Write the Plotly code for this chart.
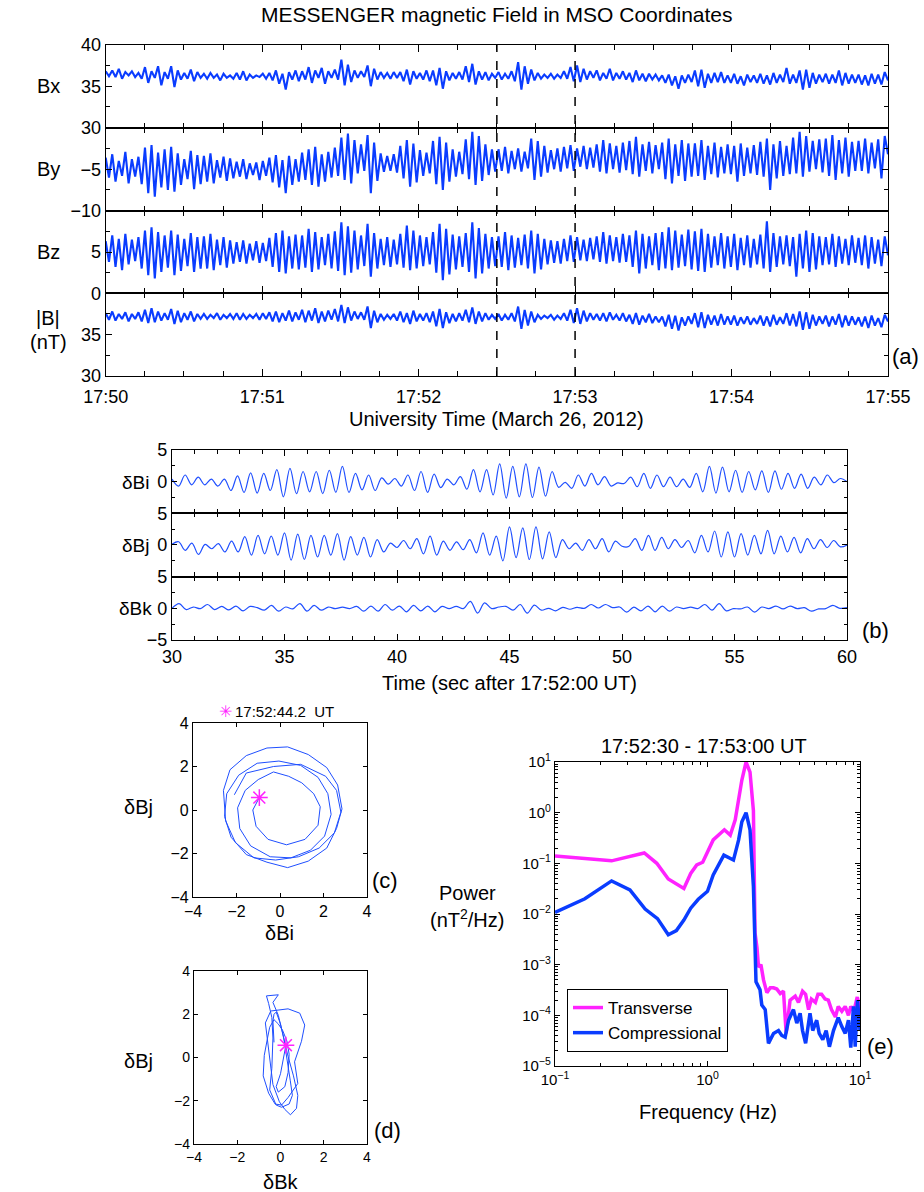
import numpy as np
import plotly.graph_objects as go

W, H = 924, 1192
FONT = 'Liberation Sans, Arial, Helvetica, sans-serif'


def X(px):
    return px / W


def Y(py):
    return 1 - py / H


# ---------------- DATA ----------------
# Panel (a): seconds after 17:50:00, tick labels
a_tick_seconds = [0, 60, 120, 180, 240, 300]
a_tick_labels = ['17:50', '17:51', '17:52', '17:53', '17:54', '17:55']
event_seconds = [150, 180]  # 17:52:30 and 17:53:00

bx = [36.8, 36.2, 36.9, 36.1, 37.1, 35.9, 36.7, 36.3, 36.8, 36.1,
      36.6, 35.9, 37.3, 35.4, 36.8, 36.0, 37.4, 35.1, 36.7, 35.9,
      37.4, 34.9, 36.9, 35.8, 36.6, 35.9, 37.0, 35.6, 36.7, 36.0,
      36.5, 35.9, 36.6, 36.0, 36.4, 35.7, 36.5, 36.0, 36.3, 35.9,
      36.6, 35.8, 36.8, 35.7, 36.4, 36.0, 36.3, 36.1, 36.5, 35.9,
      36.6, 35.7, 36.9, 35.3, 36.5, 34.6, 36.7, 35.8, 36.9, 35.6,
      36.8, 35.8, 37.3, 35.4, 36.9, 36.0, 37.2, 35.3, 36.8, 36.0,
      37.0, 35.8, 38.2, 35.1, 37.6, 35.5, 36.9, 36.0, 36.8, 36.1,
      37.5, 35.0, 37.1, 35.8, 36.7, 36.0, 36.6, 35.9, 36.7, 36.0,
      36.7, 35.6, 37.0, 35.2, 36.8, 35.9, 36.6, 35.8, 36.9, 35.6,
      36.9, 35.1, 37.2, 34.7, 36.8, 35.7, 36.6, 35.9, 36.7, 35.8,
      37.4, 35.5, 37.7, 35.2, 36.8, 35.8, 36.7, 35.7, 36.5, 36.0,
      36.7, 35.8, 36.5, 35.9, 36.8, 35.6, 37.9, 34.6, 37.4, 35.3,
      37.0, 35.7, 36.6, 35.9, 36.4, 36.0, 36.5, 35.9, 36.4, 36.0,
      36.8, 35.9, 37.3, 35.6, 37.5, 35.5, 37.1, 35.8, 36.8, 36.0,
      36.9, 35.7, 36.6, 35.9, 37.1, 35.7, 36.6, 35.9, 36.8, 35.8,
      36.6, 35.5, 36.9, 35.7, 36.5, 35.6, 36.5, 35.8, 36.4, 35.7,
      36.3, 35.4, 36.4, 35.1, 36.2, 34.7, 36.3, 35.4, 36.4, 35.5,
      36.9, 35.0, 37.0, 34.8, 36.5, 35.4, 36.6, 35.5, 36.7, 35.4,
      36.3, 35.4, 36.5, 35.3, 36.2, 35.1, 36.4, 35.5, 36.3, 35.4,
      36.5, 35.3, 36.3, 35.2, 36.6, 35.4, 36.4, 35.5, 37.2, 35.3,
      36.4, 35.4, 36.9, 34.6, 37.0, 34.8, 36.6, 35.3, 36.4, 35.5,
      36.5, 35.3, 36.4, 35.4, 36.9, 35.1, 36.6, 35.3, 36.4, 35.4,
      36.4, 35.2, 36.3, 35.1, 36.5, 35.3, 36.4, 35.2, 36.7, 35.7]

by = [-3.6, -6.0, -3.2, -6.5, -4.0, -5.8, -2.9, -6.7, -3.8, -5.9,
      -3.5, -6.8, -2.4, -7.9, -2.1, -8.3, -3.0, -7.2, -2.6, -7.5,
      -2.3, -7.7, -3.1, -6.9, -3.8, -6.2, -2.8, -7.4, -3.3, -6.8,
      -3.4, -6.5, -3.1, -6.7, -3.9, -6.0, -3.5, -6.4, -3.7, -6.1,
      -4.1, -5.9, -3.8, -6.2, -4.3, -5.7, -4.2, -6.3, -4.0, -5.8,
      -3.6, -6.6, -3.3, -7.2, -3.9, -7.9, -3.4, -6.9, -3.8, -6.5,
      -3.0, -6.3, -2.6, -6.9, -2.3, -7.1, -3.2, -6.5, -2.9, -6.0,
      -2.4, -5.8, -1.2, -6.3, -0.7, -6.7, -1.5, -5.5, -2.0, -5.2,
      -0.9, -7.9, -1.8, -6.4, -3.1, -5.3, -3.4, -5.2, -3.2, -5.4,
      -2.2, -6.1, -1.5, -7.1, -1.9, -6.6, -2.7, -5.8, -3.0, -5.5,
      -1.6, -6.8, -1.1, -7.5, -1.8, -6.5, -2.6, -5.9, -2.9, -5.6,
      -1.4, -6.2, -0.5, -6.9, -1.0, -6.4, -2.0, -5.7, -2.6, -5.3,
      -2.6, -5.2, -2.3, -5.5, -2.8, -5.0, -2.5, -5.3, -2.9, -4.9,
      -1.3, -6.3, -1.6, -5.9, -2.2, -5.4, -2.7, -5.0, -2.5, -5.3,
      -2.3, -4.9, -2.1, -5.2, -2.5, -4.7, -2.2, -5.0, -2.4, -4.8,
      -2.0, -5.3, -1.5, -5.5, -1.9, -5.0, -2.2, -5.4, -1.8, -5.1,
      -1.6, -5.6, -1.1, -5.9, -2.0, -5.2, -1.7, -5.5, -2.1, -5.0,
      -1.8, -6.2, -1.3, -6.7, -2.0, -5.8, -1.5, -6.4, -1.9, -5.9,
      -1.9, -5.8, -1.5, -6.3, -2.2, -5.6, -1.8, -6.0, -2.3, -5.5,
      -2.0, -5.6, -2.2, -6.5, -1.9, -5.8, -2.4, -5.5, -2.1, -5.7,
      -1.7, -5.9, -1.3, -7.5, -2.0, -6.1, -1.6, -5.8, -2.2, -5.6,
      -1.2, -5.5, -0.5, -5.9, -1.0, -5.3, -1.6, -5.0, -1.4, -5.4,
      -1.3, -5.8, -0.9, -6.3, -1.5, -5.5, -1.2, -5.9, -1.7, -5.2,
      -1.6, -5.2, -1.3, -5.5, -1.8, -4.9, -1.4, -6.1, -1.0, -3.2]

bz = [6.3, 3.8, 7.0, 3.2, 6.6, 2.8, 7.2, 3.5, 6.5, 3.9,
      6.8, 3.0, 7.6, 2.2, 8.0, 1.8, 7.4, 2.6, 7.0, 3.1,
      7.6, 2.2, 7.1, 2.7, 6.6, 3.3, 7.3, 2.6, 6.8, 3.0,
      6.9, 3.0, 7.2, 2.8, 6.5, 3.4, 6.8, 3.1, 6.4, 3.6,
      6.2, 3.8, 6.4, 3.6, 6.0, 4.0, 6.3, 3.7, 6.1, 3.9,
      6.7, 3.2, 7.3, 2.6, 7.6, 2.4, 6.9, 3.0, 7.1, 2.9,
      7.0, 3.1, 7.8, 2.6, 7.4, 2.9, 6.8, 3.4, 7.2, 3.0,
      7.5, 2.7, 8.6, 2.2, 8.1, 2.5, 7.6, 2.9, 7.0, 3.3,
      8.4, 2.0, 7.3, 3.0, 6.6, 3.4, 6.8, 3.2, 6.5, 3.5,
      7.2, 3.1, 8.2, 2.8, 7.6, 3.0, 7.0, 3.3, 6.8, 3.5,
      7.4, 2.5, 8.4, 1.6, 7.8, 2.3, 7.1, 2.9, 6.9, 3.2,
      7.3, 2.6, 8.6, 1.8, 7.9, 2.4, 7.2, 3.0, 6.8, 3.3,
      6.9, 3.2, 7.4, 2.8, 7.0, 3.1, 6.7, 3.4, 7.1, 3.0,
      7.6, 2.4, 7.2, 2.9, 6.6, 3.5, 6.4, 3.7, 6.3, 3.6,
      6.6, 3.9, 7.0, 3.8, 6.8, 4.0, 6.5, 3.9, 6.7, 4.1,
      6.9, 3.8, 7.4, 3.6, 7.0, 3.9, 6.8, 3.7, 7.2, 3.8,
      7.0, 3.2, 7.6, 2.4, 7.2, 3.0, 6.9, 3.4, 7.3, 2.8,
      7.4, 3.0, 8.0, 2.8, 7.6, 3.1, 7.1, 3.3, 7.7, 2.9,
      7.5, 2.7, 7.8, 2.6, 7.2, 3.1, 6.9, 3.4, 7.3, 3.0,
      6.9, 3.2, 7.2, 2.8, 6.7, 3.4, 7.0, 3.1, 6.6, 3.5,
      7.1, 3.0, 8.7, 2.6, 7.3, 3.2, 6.9, 3.5, 7.0, 3.3,
      6.8, 2.0, 7.2, 3.0, 7.6, 2.6, 7.3, 2.9, 6.9, 3.4,
      6.8, 3.5, 7.2, 3.2, 6.9, 3.6, 6.6, 3.4, 7.0, 3.7,
      6.7, 3.4, 7.0, 3.0, 6.8, 3.6, 6.5, 3.3, 6.9, 4.6]

bmag = [37.6, 36.8, 37.8, 36.7, 37.5, 36.9, 37.7, 36.6, 37.5, 36.9,
        37.7, 36.6, 38.0, 36.4, 38.2, 36.5, 37.8, 36.7, 37.6, 36.8,
        38.1, 36.3, 37.9, 36.5, 37.6, 36.8, 37.8, 36.6, 37.5, 36.9,
        37.5, 36.9, 37.4, 37.0, 37.6, 36.8, 37.4, 37.0, 37.5, 36.9,
        37.6, 36.8, 37.5, 36.9, 37.4, 37.0, 37.5, 36.8, 37.6, 36.9,
        37.7, 36.6, 37.8, 36.5, 37.6, 36.7, 37.9, 36.6, 37.7, 36.8,
        38.0, 36.5, 37.9, 36.7, 38.2, 36.4, 37.8, 36.6, 37.9, 36.8,
        38.1, 36.6, 38.6, 36.4, 38.3, 36.7, 37.8, 36.9, 37.7, 36.8,
        38.4, 35.8, 37.9, 36.5, 37.5, 36.8, 37.4, 36.9, 37.5, 36.7,
        37.8, 36.5, 37.6, 36.3, 37.9, 36.6, 37.5, 36.7, 37.6, 36.5,
        37.8, 36.0, 38.1, 35.8, 37.7, 36.4, 37.5, 36.6, 37.6, 36.7,
        38.0, 36.5, 38.3, 36.3, 37.8, 36.6, 37.6, 36.8, 37.4, 36.9,
        37.5, 36.7, 37.4, 36.8, 37.6, 36.6, 38.4, 35.7, 38.0, 36.1,
        37.8, 36.5, 37.4, 36.9, 37.3, 37.0, 37.4, 36.8, 37.3, 36.9,
        37.6, 36.7, 38.0, 36.4, 38.2, 36.3, 37.9, 36.6, 37.6, 36.8,
        37.5, 36.7, 37.6, 36.6, 37.7, 36.8, 37.4, 36.7, 37.6, 36.6,
        37.4, 36.3, 37.6, 36.2, 37.3, 36.5, 37.5, 36.4, 37.2, 36.5,
        37.2, 36.0, 37.4, 35.7, 37.3, 35.5, 37.1, 36.1, 37.2, 36.3,
        37.6, 35.9, 37.7, 35.8, 37.4, 36.2, 37.3, 36.1, 37.5, 36.2,
        37.2, 36.2, 37.3, 36.1, 37.1, 36.3, 37.2, 36.2, 37.0, 36.3,
        37.3, 36.1, 37.2, 36.0, 37.4, 36.2, 37.1, 36.3, 37.6, 36.1,
        37.5, 36.0, 37.8, 35.6, 37.7, 35.7, 37.4, 36.1, 37.2, 36.3,
        37.3, 36.0, 37.2, 36.2, 37.5, 35.9, 37.3, 36.1, 37.2, 36.2,
        37.1, 36.0, 37.2, 35.8, 37.3, 36.1, 37.0, 35.9, 37.4, 36.6]

# Panel (b): successive extrema, seconds 30..60 after 17:52:00
b_tick_seconds = [30, 35, 40, 45, 50, 55, 60]
dbi = [0.4, -0.7, 1.05, -0.5, 0.7, -0.5, 0.4, -0.7, 0.4, -1.4, 0.9, -1.7, 1.4, -1.8, 1.3, -1.4,
       1.9, -2.4, 2.1, -1.9, 1.6, -1.6, 1.6, -1.9, 1.8, -1.7, 2.4, -1.7, 1.3, -1.3, 1.05, -1.4,
       0.6, -0.4, 0.5, -0.7, 1.05, -1.4, 1.6, -1.7, 1.2, -0.95, 0.4, -0.5, 0.8, -1.2, 1.9, -1.6,
       1.9, -2.1, 2.8, -2.6,
       2.4, -2.4, 2.8, -2.5, 2.3, -2.3, 1.6, -0.9, -0.1, -1.05, 1.05, -0.7, 1.3, -0.5, 0.8, -0.7,
       -0.2, -0.3, 0.7, -0.8, 1.3, -1.05, 1.05, -0.8, 0.7, -0.8, 0.4, -0.9, 1.3, -1.6, 2.4, -1.8,
       2.3, -1.6, 1.8, -1.7, 1.6, -1.3, 1.7, -1.7, 1.7, -1.2, 1.3, -1.05, 1.2, -1.05, 0.7, -0.5,
       1.05, -0.15, 0.5, 0.0]
dbj = [0.1, 0.5, -0.85, 0.3, -1.5, 0.1, -0.6, 0.2, -1.1, 0.6, -1.1, 1.3, -1.6, 1.5, -1.4, 1.4,
       -1.6, 1.9, -2.4, 1.7, -2.3, 1.5, -1.9, 1.5, -1.6, 1.8, -2.4, 1.3, -1.6, 1.2, -1.9, 0.85,
       -1.1, 0.3, -0.4, 0.7, -0.6, 1.0, -1.4, 1.4, -1.6, 0.6, -0.85, 0.5, -0.75, 0.85, -1.25, 1.9,
       -1.6, 1.4, -2.5, 2.85,
       -2.0, 2.7, -2.3, 2.85, -2.2, 2.05, -2.0, 0.85, -0.6, 0.3, -0.85, 0.85, -0.6, 1.0, -1.1, 0.6,
       -0.2, -0.25, 1.0, -0.85, 1.5, -0.85, 1.2, -0.6, 0.85, -0.4, 0.7, -1.25, 1.5, -1.1, 2.2, -1.9,
       2.05, -1.9, 1.8, -1.6, 1.5, -1.4, 2.3, -1.4, 1.4, -1.1, 1.2, -1.25, 1.0, -0.6, 0.85, -0.4,
       0.7, -0.3, 0.0]
dbk = [0.0, 0.75, -0.2, 0.2, -0.05, 0.6, -0.2, 0.3, -0.25, 0.35, -0.4, 0.3, 0.1, -0.3, 0.45, -0.45,
       0.2, -0.1, 0.75, -0.45, 0.45, -0.3, 0.2, -0.05, 0.2, -0.05, 0.3, -0.45, 0.35, -0.45, 0.6, -0.3,
       0.35, -0.55, 0.45, -0.4, 0.35, -0.55, 0.3, -0.05, 0.3, -0.05, 1.1, -0.75, 0.85, -0.05, 0.2,
       0.3, -0.3, 0.6, -0.75, 0.5, -0.3, 0.0, -0.4, 0.15, -0.15, 0.15, 0.0, 0.6, 0.05, 0.6, 0.1,
       0.2, -0.6, 0.2, -0.4, 0.35, -0.55, 0.35, -0.45, 0.2, -0.05, 0.2, -0.05, 0.6, -0.3, 0.75, -0.4,
       -0.05, -0.1, 0.2, -0.6, 0.2, -0.05, 0.35, -0.1, 0.35, -0.05, 0.1, -0.45, -0.1, -0.05, 0.45,
       0.0, 0.1]

# Panels (c), (d): hodogram samples starting at 17:52:44.2 UT
hodo_bi = [-0.95, -1.25, -1.1, -0.55, 0.3, 1.15, 1.75, 1.85, 1.55, 1.0, 0.4, -0.3,
           -1.0, -1.6, -1.95, -1.85, -1.35, -0.45, 0.5, 1.4, 2.05, 2.35, 2.2, 1.75, 0.95, -0.05,
           -1.05, -1.9, -2.45, -2.55, -2.25, -1.55, -0.6, 0.35, 1.3, 2.15, 2.6, 2.85, 2.65, 2.15,
           1.3, 0.35,
           -0.6, -1.55, -2.3, -2.6, -2.5, -2.05, -1.2, -0.2, 0.85, 1.8, 2.5, 2.8, 2.6, 2.1,
           0.95, -0.3, -1.55, -2.1]
hodo_bj = [0.57, 0.0, -0.75, -1.35, -1.6, -1.35, -0.7, 0.15, 0.75, 1.25, 1.55, 1.75,
           1.4, 0.9, 0.1, -0.85, -1.65, -2.15, -2.2, -1.85, -1.2, -0.2, 0.75, 1.5, 2.05, 2.25,
           2.15, 1.6, 0.75, -0.3, -1.25, -2.05, -2.4, -2.65, -2.35, -1.75, -0.85, 0.05, 1.15, 1.95,
           2.55, 2.9,
           2.85, 2.5, 1.85, 0.9, -0.5, -1.5, -2.2, -2.3, -2.15, -1.75, -1.05, -0.1, 0.9, 1.55,
           2.1, 2.0, 1.7, 0.7]
hodo_bk = [0.25, 0.15, 0.0, -0.2, -0.1, 0.2, 0.35, 0.4, 0.3, 0.1, -0.1, -0.3,
           -0.5, -0.6, -0.75, -0.8, -0.55, -0.25, 0.05, 0.35, 0.8, 0.65, 0.97, 1.12, 0.89, 0.35,
           -0.45, -0.7, -0.6, -0.45, -0.35, -0.05, 0.2, 0.46, 0.74, 0.8, 0.6, 0.35, 0.1, -0.1,
           -0.35, -0.1,
           -0.65, -0.55, -0.4, -0.35, -0.4, -0.5, -0.2, 0.05, 0.4, 0.55, 0.45, 0.3, 0.15, 0.0,
           -0.2, -0.3, -0.35, -0.3]

# Panel (e): power spectra
f_tr = [0.1, 0.235, 0.385, 0.465, 0.553, 0.70, 0.776, 0.85, 0.93, 1.0, 1.09, 1.29, 1.41, 1.52,
        1.68, 1.79, 1.9, 2.0, 2.05, 2.11, 2.16, 2.24, 2.33, 2.45, 2.58, 2.71, 2.85, 3.0, 3.15,
        3.28, 3.48, 3.76, 3.95, 4.2, 4.4, 4.6, 4.8, 5.1, 5.3, 5.6, 5.9, 6.2, 6.5, 6.9, 7.2, 7.6,
        8.0, 8.4, 8.7, 9.1, 9.6, 10.0]
p_tr = [0.14, 0.112, 0.16, 0.1, 0.049, 0.032, 0.063, 0.093, 0.105, 0.17, 0.29, 0.46, 0.36, 0.72,
        4.4, 10.0, 6.3, 1.1, 0.0042, 0.0022, 9e-4, 1e-3, 5e-4, 2.8e-4, 3.5e-4, 3.5e-4, 3.3e-4,
        2.7e-4, 3e-4, 4.4e-5, 2e-4, 2.4e-4, 1.8e-4, 3e-4, 2.6e-4, 1.3e-4, 2.1e-4, 1.8e-4, 2.6e-4,
        2.6e-4, 2.1e-4, 2e-4, 1.3e-4, 9.3e-5, 1.5e-4, 1.2e-4, 1.5e-4, 1e-4, 1.5e-4, 1.2e-4,
        2.3e-4, 1.3e-4]
f_co = [0.1, 0.157, 0.235, 0.31, 0.39, 0.47, 0.553, 0.625, 0.70, 0.776, 0.87, 1.0, 1.09, 1.28,
        1.48, 1.6, 1.68, 1.79, 1.9, 2.0, 2.08, 2.21, 2.27, 2.39, 2.51, 2.71, 2.92, 3.07, 3.23,
        3.4, 3.66, 3.85, 4.05, 4.2, 4.4, 4.7, 4.9, 5.2, 5.4, 5.7, 6.0, 6.3, 6.7, 7.2, 7.6, 8.0,
        8.4, 8.7, 9.06, 9.3, 9.63, 10.0]
p_co = [0.0108, 0.02, 0.045, 0.03, 0.0125, 0.0081, 0.0039, 0.0047, 0.0076, 0.013, 0.0195, 0.028,
        0.059, 0.145, 0.116, 0.29, 0.66, 1.0, 0.46, 0.035, 4.6e-4, 3.2e-4, 1.6e-4, 1.3e-4, 2.8e-5,
        4.4e-5, 5e-5, 4e-5, 3.7e-5, 8e-5, 1.3e-4, 7e-5, 1.1e-4, 5e-5, 2.8e-5, 1.1e-4, 5e-5, 8e-5,
        4.4e-5, 3.3e-5, 5e-5, 2.4e-5, 5e-5, 9e-5, 6e-5, 4.4e-5, 8e-5, 2.3e-5, 1.5e-4, 2.4e-5,
        2e-4, 5e-5]

# ---------------- FIGURE ----------------
BLUE = '#0a3cff'
MAG = '#ff22ff'
fig = go.Figure()

a_series = [bx, by, bz, bmag]
for i, s in enumerate(a_series):
    n = '' if i == 0 else str(i + 1)
    t = np.linspace(0, 300, len(s))
    fig.add_trace(go.Scatter(x=t, y=s, mode='lines', line=dict(color=BLUE, width=2.1),
                             xaxis='x' + n, yaxis='y' + n, showlegend=False, hoverinfo='skip'))

b_series = [dbi, dbj, dbk]
for i, s in enumerate(b_series):
    n = str(i + 5)
    t = np.linspace(30, 60, len(s))
    fig.add_trace(go.Scatter(x=t, y=s, mode='lines', line=dict(color='#1f4fff', width=1.2, shape='spline'),
                             xaxis='x' + n, yaxis='y' + n, showlegend=False, hoverinfo='skip'))

# hodograms
fig.add_trace(go.Scatter(x=hodo_bi, y=hodo_bj, mode='lines', line=dict(color='#1f4fff', width=1),
                         xaxis='x8', yaxis='y8', showlegend=False))
fig.add_trace(go.Scatter(x=hodo_bi[:1], y=hodo_bj[:1], mode='markers',
                         marker=dict(symbol='asterisk-open', size=14, color=MAG, line=dict(color=MAG, width=1.5)),
                         xaxis='x8', yaxis='y8', showlegend=False))
fig.add_trace(go.Scatter(x=hodo_bk, y=hodo_bj, mode='lines', line=dict(color='#1f4fff', width=1),
                         xaxis='x9', yaxis='y9', showlegend=False))
fig.add_trace(go.Scatter(x=hodo_bk[:1], y=hodo_bj[:1], mode='markers',
                         marker=dict(symbol='asterisk-open', size=14, color=MAG, line=dict(color=MAG, width=1.5)),
                         xaxis='x9', yaxis='y9', showlegend=False))

# spectra
fig.add_trace(go.Scatter(x=f_tr, y=p_tr, mode='lines', name='Transverse',
                         line=dict(color=MAG, width=3.5), xaxis='x10', yaxis='y10'))
fig.add_trace(go.Scatter(x=f_co, y=p_co, mode='lines', name='Compressional',
                         line=dict(color=BLUE, width=3.5), xaxis='x10', yaxis='y10'))

base = dict(showline=True, linecolor='black', linewidth=1.3, mirror='ticks', ticks='inside',
            tickcolor='black', tickwidth=1.2, showgrid=False, zeroline=False, automargin=False)

layout = dict(template='none', width=W, height=H, margin=dict(l=0, r=0, t=0, b=0, pad=0),
              plot_bgcolor='white', paper_bgcolor='white',
              font=dict(family=FONT, color='black'))

# panel (a)
a_rows = [(44.7, 127.7), (127.7, 210.7), (210.7, 293.3), (293.3, 376.0)]
a_ranges = [[30, 40], [-10, 0], [0, 10], [30, 40]]
a_yticks = [[30, 35, 40], [-10, -5], [0, 5], [30, 35]]
for i, (top, bot) in enumerate(a_rows):
    n = '' if i == 0 else str(i + 1)
    layout['xaxis' + n] = dict(base, domain=[X(105.7), X(888)], range=[0, 300], anchor='y' + n,
                               tickmode='array', tickvals=a_tick_seconds, ticktext=a_tick_labels,
                               showticklabels=(i == 3), ticklen=7, ticklabelstandoff=4,
                               tickfont=dict(size=18, family=FONT),
                               minor=dict(tickmode='linear', tick0=0, dtick=15, ticks='inside',
                                          ticklen=5, tickcolor='black'))
    layout['yaxis' + n] = dict(base, domain=[Y(bot), Y(top)], range=a_ranges[i], anchor='x' + n,
                               tickmode='array', tickvals=a_yticks[i], ticklen=6,
                               tickfont=dict(size=18, family=FONT),
                               minor=dict(tickmode='linear', tick0=0, dtick=2.5, ticks='inside',
                                          ticklen=4, tickcolor='black'))

# panel (b)
b_rows = [(450.0, 513.3), (513.3, 576.6), (576.6, 640.0)]
b_yticks = [[0, 5], [0, 5], [-5, 0, 5]]
for i, (top, bot) in enumerate(b_rows):
    n = str(i + 5)
    layout['xaxis' + n] = dict(base, domain=[X(172), X(847)], range=[30, 60], anchor='y' + n,
                               tickmode='array', tickvals=b_tick_seconds,
                               showticklabels=(i == 2), ticklen=6,
                               tickfont=dict(size=18, family=FONT),
                               minor=dict(tickmode='linear', tick0=30, dtick=1, ticks='inside',
                                          ticklen=4, tickcolor='black'))
    layout['yaxis' + n] = dict(base, domain=[Y(bot), Y(top)], range=[-5, 5], anchor='x' + n,
                               tickmode='array', tickvals=b_yticks[i], ticklen=5,
                               tickfont=dict(size=18, family=FONT),
                               minor=dict(tickmode='linear', tick0=0, dtick=2.5, ticks='inside',
                                          ticklen=3, tickcolor='black'))

# panel (c)
hticks = [-4, -2, 0, 2, 4]
layout['xaxis8'] = dict(base, domain=[X(193), X(367)], range=[-4, 4], anchor='y8', tickmode='array',
                        tickvals=hticks, ticklen=4, tickfont=dict(size=16, family=FONT))
layout['yaxis8'] = dict(base, domain=[Y(897), Y(723)], range=[-4, 4], anchor='x8', tickmode='array',
                        tickvals=hticks, ticklen=4, tickfont=dict(size=16, family=FONT))
# panel (d)
layout['xaxis9'] = dict(base, domain=[X(194), X(367)], range=[-4, 4], anchor='y9', tickmode='array',
                        tickvals=hticks, ticklen=4, tickfont=dict(size=14, family=FONT))
layout['yaxis9'] = dict(base, domain=[Y(1144), Y(971)], range=[-4, 4], anchor='x9', tickmode='array',
                        tickvals=hticks, ticklen=4, tickfont=dict(size=14, family=FONT))

# panel (e)
xdec = [0.1, 1, 10]
ydec = [1e-5, 1e-4, 1e-3, 1e-2, 1e-1, 1, 10]


def sup(v):
    e = int(round(np.log10(v)))
    return '10<sup>%s</sup>' % (str(e).replace('-', '\u2212'))


layout['xaxis10'] = dict(base, type='log', domain=[X(555), X(860)], range=[-1, 1], anchor='y10',
                         tickmode='array', tickvals=xdec, ticktext=[sup(v) for v in xdec], ticklen=5,
                         tickfont=dict(size=15, family=FONT),
                         minor=dict(ticks='inside', ticklen=3, tickcolor='black', dtick='D1'))
layout['yaxis10'] = dict(base, type='log', domain=[Y(1066), Y(762)], range=[-5, 1], anchor='x10',
                         tickmode='array', tickvals=ydec, ticktext=[sup(v) for v in ydec], ticklen=5,
                         tickfont=dict(size=15, family=FONT),
                         minor=dict(ticks='inside', ticklen=3, tickcolor='black', dtick='D1'))

layout['legend'] = dict(x=X(567), y=Y(989), xanchor='left', yanchor='top', bgcolor='white',
                        bordercolor='black', borderwidth=1, font=dict(size=17, family=FONT),
                        tracegroupgap=0)
layout['showlegend'] = True

# dashed event lines in panel (a)
shapes = []
for s in event_seconds:
    shapes.append(dict(type='line', xref='x4', yref='paper', x0=s, x1=s, y0=Y(376), y1=Y(44.7),
                       line=dict(color='black', width=1.5, dash='dash')))
layout['shapes'] = shapes


def ann(text, px, py, size=20, color='black', xanchor='center'):
    return dict(text=text, x=X(px), y=Y(py), xref='paper', yref='paper', showarrow=False,
                xanchor=xanchor, yanchor='middle', font=dict(size=size, color=color, family=FONT))


anns = [
    ann('MESSENGER magnetic Field in MSO Coordinates', 497, 14.5, 21),
    ann('Bx', 48, 86, 20), ann('By', 48, 169, 20), ann('Bz', 48, 252, 20),
    ann('|B|', 48, 318, 20), ann('(nT)', 48, 342, 20),
    ann('(a)', 905, 357, 22),
    ann('University Time (March 26, 2012)', 497, 419, 20),
    ann('\u03b4Bi', 135, 482, 19), ann('\u03b4Bj', 135, 545, 19), ann('\u03b4Bk', 135, 608, 19),
    ann('Time (sec after 17:52:00 UT)', 509.5, 683, 20),
    ann('(b)', 875, 630, 22),
    ann('\u2733', 225, 711, 16, MAG),
    ann('17:52:44.2  UT', 233, 711, 15, xanchor='left'),
    ann('\u03b4Bj', 138, 807, 20), ann('\u03b4Bi', 279, 933, 20), ann('(c)', 385, 881, 22),
    ann('\u03b4Bj', 138, 1061, 20), ann('\u03b4Bk', 280, 1182, 20), ann('(d)', 387, 1130, 22),
    ann('17:52:30 - 17:53:00 UT', 704, 746, 20),
    ann('Power', 467, 893, 20), ann('(nT<sup>2</sup>/Hz)', 467, 918, 20),
    ann('Frequency (Hz)', 708, 1112, 20),
    ann('(e)', 880, 1046, 22),
]
layout['annotations'] = anns

fig.update_layout(**layout)
fig.write_html('out.html')
